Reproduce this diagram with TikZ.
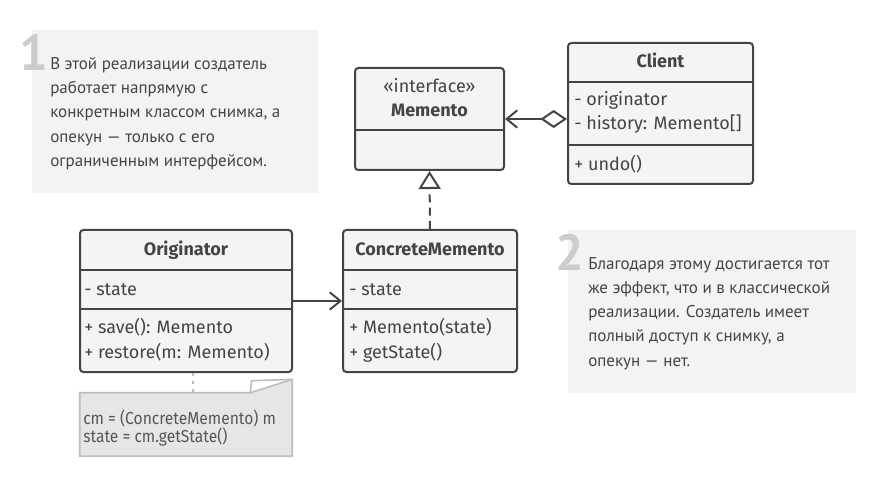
\documentclass[tikz,border=0pt]{standalone}
\usepackage{fontspec}
\setmainfont{PT Sans}
\newfontfamily\umlfont{Fira Sans}
\newfontfamily\narrowfont{Fira Sans}[FakeStretch=0.9]
\usetikzlibrary{arrows.meta}
\definecolor{ink}{HTML}{444444}
\definecolor{boxfill}{HTML}{F4F4F4}
\definecolor{notebg}{HTML}{F3F3F3}
\definecolor{numgray}{HTML}{CCCCCC}
\definecolor{memofill}{HTML}{E6E6E6}
\definecolor{memoline}{HTML}{BDBDBD}
\tikzset{
  classbox/.style={draw=ink, fill=boxfill, line width=1.5pt, rounded corners=2.5pt, inner sep=0pt},
  classtitle/.style={anchor=base, inner sep=0pt, text=ink, font=\umlfont\bfseries\fontsize{13.5}{15}\selectfont},
  member/.style={anchor=base west, inner sep=0pt, text=ink, font=\umlfont\fontsize{13.5}{15}\selectfont},
  divider/.style={draw=ink, line width=1.5pt},
  callout/.style={fill=notebg, draw=none, inner sep=0pt},
  callnum/.style={anchor=base west, inner sep=0pt, text=numgray, font=\bfseries\fontsize{38}{38}\selectfont},
  calltext/.style={anchor=north west, align=left, inner sep=0pt, text=ink, font=\fontsize{12.75}{18.2}\selectfont},
  memotext/.style={anchor=north west, align=left, inner sep=0pt, text=ink!90, font=\narrowfont\fontsize{13}{13.5}\selectfont},
  link/.style={draw=ink, line width=1.5pt},
}
\begin{document}
\begin{tikzpicture}[x=0.75pt,y=0.75pt,yscale=-1,xscale=1]
\path[use as bounding box] (0,0) rectangle (885,488);

% Callout 1
\node[callout, minimum width=214.5pt, minimum height=122.25pt] (callA) at (174.5,111.5) {};
\node[callnum] (numA) at (19,71) {1};
\node[calltext] (txtA) at (50,57) {В этой реализации создатель\\работает напрямую с\\конкретным классом снимка, а\\опекун — только с его\\ограниченным интерфейсом.};

% Callout 2
\node[callout, minimum width=216pt, minimum height=122.25pt] (callB) at (712,311.5) {};
\node[callnum] (numB) at (555,271) {2};
\node[calltext] (txtB) at (588,257) {Благодаря этому достигается тот\\же эффект, что и в классической\\реализации. Создатель имеет\\полный доступ к снимку, а\\опекун — нет.};

% Memento
\node[classbox, minimum width=111.75pt, minimum height=76.5pt] (memento) at (429.5,119) {};
\draw[divider] (memento.west |- 0,130) -- (memento.east |- 0,130);
\node[member, anchor=base] (memStereo) at (429.5,93) {«interface»};
\node[classtitle] (memName) at (429.5,117) {Memento};

% Client
\node[classbox, minimum width=138.75pt, minimum height=105.75pt] (client) at (660.5,113.5) {};
\draw[divider] (client.west |- 0,82) -- (client.east |- 0,82);
\draw[divider] (client.west |- 0,145) -- (client.east |- 0,145);
\node[classtitle] (cliName) at (660.5,68) {Client};
\node[member] (cliOrig) at (574,106) {- originator};
\node[member] (cliHist) at (574,130) {- history: Memento[]};
\node[member] (cliUndo) at (574,171) {+ undo()};

% Originator
\node[classbox, minimum width=159pt, minimum height=106.5pt] (orig) at (186,301) {};
\draw[divider] (orig.west |- 0,270) -- (orig.east |- 0,270);
\draw[divider] (orig.west |- 0,309) -- (orig.east |- 0,309);
\node[classtitle] (origName) at (186,256) {Originator};
\node[member] (origState) at (84,296) {- state};
\node[member] (origSave) at (84,334) {+ save(): Memento};
\node[member] (origRestore) at (84,358) {+ restore(m: Memento)};

% ConcreteMemento
\node[classbox, minimum width=130.5pt, minimum height=106.5pt] (cmem) at (430,301) {};
\draw[divider] (cmem.west |- 0,270) -- (cmem.east |- 0,270);
\draw[divider] (cmem.west |- 0,309) -- (cmem.east |- 0,309);
\node[classtitle] (cmemName) at (430,256) {ConcreteMemento};
\node[member] (cmemState) at (349,296) {- state};
\node[member] (cmemCtor) at (349,334) {+ Memento(state)};
\node[member] (cmemGet) at (349,358) {+ getState()};

% Note with folded corner
\node[minimum width=159pt, minimum height=47.25pt, inner sep=0pt] (memo) at (186,424.5) {};
\draw[draw=memoline, fill=memofill, line width=1.2pt]
  (memo.north west) -- ([xshift=-31.5pt]memo.north east) -- ([yshift=-10pt]memo.north east)
  -- (memo.south east) -- (memo.south west) -- cycle;
\draw[draw=memoline, line width=1.2pt]
  ([xshift=-31.5pt]memo.north east) -- ([xshift=-30.5pt,yshift=-9pt]memo.north east) -- ([yshift=-10pt]memo.north east);
\node[memotext] (memoTxt) at (83,410) {cm = (ConcreteMemento) m\\state = cm.getState()};

%Connectors
\draw[link, -{Straight Barb[length=8pt,width=13pt]}] (orig.east) -- (cmem.west);
\draw[link, {Diamond[length=20pt,width=13.5pt,fill=white]}-{Straight Barb[length=8pt,width=13pt]}] (client.west |- memento.east) -- (memento.east);
\draw[link, dash pattern=on 6pt off 4pt, -{Triangle[length=13.5pt,width=16.5pt,fill=white]}] (cmem.north) -- (memento.south);
\draw[draw=memoline, line width=1.5pt, dash pattern=on 2pt off 4pt] ([xshift=5pt]orig.south) -- ([xshift=5pt]memo.north);

\end{tikzpicture}
\end{document}
